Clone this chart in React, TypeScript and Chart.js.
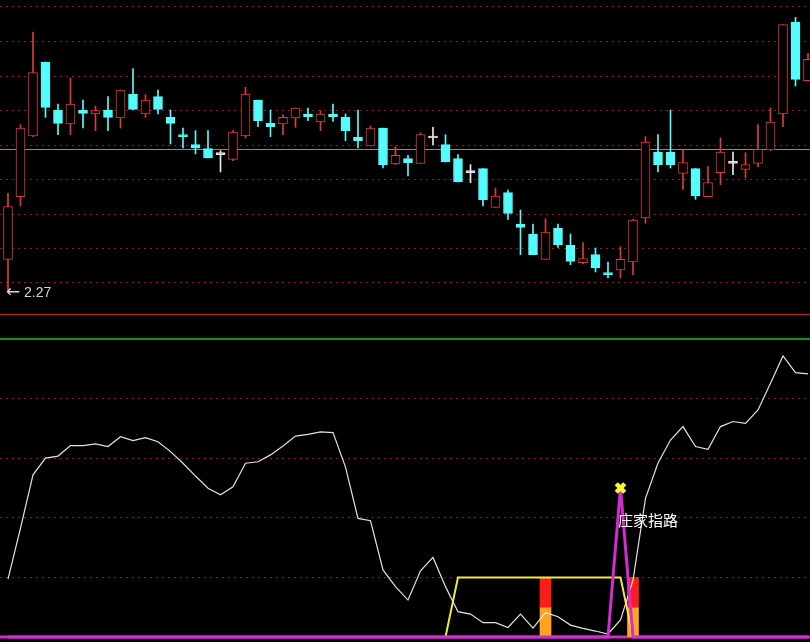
import React, { useEffect, useRef } from 'react';
import { Chart, registerables } from 'chart.js';

Chart.register(...registerables);

// ---------- price panel (65 sessions) ----------
const opens = [2.319, 2.413, 2.504, 2.615, 2.543, 2.522, 2.543, 2.537, 2.543, 2.531,
  2.567, 2.537, 2.563, 2.532, 2.506, 2.491, 2.485, 2.476, 2.469, 2.504,
  2.558, 2.523, 2.522, 2.531, 2.537, 2.525, 2.537, 2.532, 2.502, 2.489,
  2.516, 2.462, 2.470, 2.463, 2.501, 2.491, 2.470, 2.449, 2.455, 2.397,
  2.419, 2.372, 2.357, 2.319, 2.366, 2.340, 2.314, 2.326, 2.299, 2.303,
  2.315, 2.381, 2.480, 2.480, 2.448, 2.455, 2.413, 2.449, 2.463, 2.454,
  2.463, 2.483, 2.537, 2.675, 2.587];
const closes = [2.398, 2.516, 2.599, 2.547, 2.523, 2.552, 2.538, 2.542, 2.532, 2.573,
  2.544, 2.558, 2.544, 2.523, 2.503, 2.486, 2.471, 2.476, 2.510, 2.567,
  2.527, 2.518, 2.532, 2.546, 2.533, 2.537, 2.533, 2.512, 2.497, 2.516,
  2.461, 2.475, 2.464, 2.506, 2.501, 2.465, 2.435, 2.449, 2.408, 2.414,
  2.388, 2.367, 2.326, 2.360, 2.341, 2.316, 2.320, 2.306, 2.296, 2.319,
  2.378, 2.495, 2.461, 2.461, 2.464, 2.414, 2.434, 2.480, 2.463, 2.461,
  2.484, 2.525, 2.671, 2.589, 2.619];
const highs = [2.418, 2.521, 2.660, 2.615, 2.552, 2.591, 2.558, 2.549, 2.563, 2.573,
  2.605, 2.566, 2.573, 2.543, 2.516, 2.512, 2.512, 2.482, 2.512, 2.577,
  2.558, 2.543, 2.536, 2.546, 2.546, 2.542, 2.552, 2.537, 2.543, 2.519,
  2.516, 2.488, 2.475, 2.509, 2.517, 2.506, 2.476, 2.461, 2.455, 2.426,
  2.423, 2.393, 2.372, 2.380, 2.372, 2.357, 2.344, 2.336, 2.315, 2.338,
  2.379, 2.503, 2.506, 2.543, 2.483, 2.455, 2.458, 2.501, 2.480, 2.479,
  2.521, 2.546, 2.671, 2.682, 2.628];
const lows = [2.270, 2.399, 2.503, 2.532, 2.506, 2.506, 2.516, 2.512, 2.512, 2.516,
  2.544, 2.532, 2.537, 2.492, 2.486, 2.477, 2.471, 2.450, 2.467, 2.501,
  2.518, 2.503, 2.506, 2.517, 2.527, 2.512, 2.526, 2.497, 2.486, 2.489,
  2.456, 2.461, 2.444, 2.463, 2.491, 2.465, 2.435, 2.434, 2.399, 2.397,
  2.379, 2.326, 2.326, 2.319, 2.337, 2.311, 2.312, 2.300, 2.291, 2.291,
  2.296, 2.373, 2.450, 2.456, 2.424, 2.409, 2.413, 2.431, 2.446, 2.441,
  2.458, 2.482, 2.518, 2.579, 2.587];
const priceGrid = [2.284, 2.336, 2.387, 2.439, 2.490, 2.542, 2.594, 2.646, 2.698];
const prevClose = 2.485;
const priceMin = 2.237;
const priceMax = 2.708;

// ---------- indicator panel ----------
const indicator = [19.4, 36.5, 54.4, 60.0, 60.7, 64.2, 64.2, 64.8, 63.9, 67.2,
  65.9, 66.9, 65.5, 62.2, 58.3, 54.0, 49.9, 47.7, 50.4, 58.3,
  58.8, 61.1, 64.1, 67.4, 68.0, 68.8, 68.6, 57.0, 39.8, 39.0,
  22.5, 16.9, 12.4, 22.2, 26.7, 16.9, 8.5, 7.7, 4.8, 4.8,
  3.2, 7.7, 3.0, 8.2, 6.8, 4.0, 2.9, 2.0, 1.0, 5.7,
  19.1, 46.5, 58.4, 66.1, 70.6, 63.9, 63.0, 70.6, 72.3, 71.7,
  76.2, 85.1, 94.3, 88.7, 88.3];
const yellowLine = [0, 0, 0, 0, 0, 0, 0, 0, 0, 0,
  0, 0, 0, 0, 0, 0, 0, 0, 0, 0,
  0, 0, 0, 0, 0, 0, 0, 0, 0, 0,
  0, 0, 0, 0, 0, 0, 20, 20, 20, 20,
  20, 20, 20, 20, 20, 20, 20, 20, 20, 20,
  0, 0, 0, 0, 0, 0, 0, 0, 0, 0,
  0, 0, 0, 0, 0];
const magentaLine = [0, 0, 0, 0, 0, 0, 0, 0, 0, 0,
  0, 0, 0, 0, 0, 0, 0, 0, 0, 0,
  0, 0, 0, 0, 0, 0, 0, 0, 0, 0,
  0, 0, 0, 0, 0, 0, 0, 0, 0, 0,
  0, 0, 0, 0, 0, 0, 0, 0, 0, 50,
  0, 0, 0, 0, 0, 0, 0, 0, 0, 0,
  0, 0, 0, 0, 0];
const barIndex = [43, 50];
const barMid = [10, 10];
const barTop = [20, 20];
const signalIndex = 49;
const signalValue = 50;
const signalText = '庄家指路';
const signalTextValue = 39.3;
const oscGrid = [20, 40, 60, 80];
const oscTopLine = 100;
const oscMin = 0;
const oscMax = 107.7;

const xMin = -0.64;
const xMax = 64.16;

const UP = '#dc3c3a';
const DOWN = '#54fcfc';
const FLAT = '#e8e8e8';
const GRID = 'rgba(150,32,32,0.95)';

function candleColor(i: number) {
  const o = opens[i];
  const c = closes[i];
  return c > o ? UP : c < o ? DOWN : FLAT;
}
function bodyFill(i: number) {
  const o = opens[i];
  const c = closes[i];
  return c > o ? '#000000' : c < o ? DOWN : FLAT;
}

const pricePanelDecor = {
  id: 'pricePanelDecor',
  beforeDatasetsDraw(chart: any) {
    const { ctx, chartArea, scales } = chart;
    const y = Math.round(scales.y.getPixelForValue(prevClose)) + 0.5;
    ctx.save();
    ctx.strokeStyle = '#8a8a8a';
    ctx.lineWidth = 1;
    ctx.beginPath();
    ctx.moveTo(chartArea.left, y);
    ctx.lineTo(chartArea.right, y);
    ctx.stroke();
    ctx.restore();
  },
  afterDraw(chart: any) {
    const { ctx, chartArea, scales } = chart;
    ctx.save();
    ctx.strokeStyle = '#b02222';
    ctx.lineWidth = 1.5;
    ctx.beginPath();
    ctx.moveTo(0, chartArea.bottom + 0.5);
    ctx.lineTo(chart.width, chartArea.bottom + 0.5);
    ctx.stroke();
    let idx = 0;
    for (let i = 1; i < lows.length; i++) if (lows[i] < lows[idx]) idx = i;
    const x = scales.x.getPixelForValue(idx);
    const y = scales.y.getPixelForValue(lows[idx]);
    ctx.fillStyle = '#d4d4d4';
    ctx.textAlign = 'left';
    ctx.textBaseline = 'middle';
    ctx.font = '17px "DejaVu Sans", sans-serif';
    ctx.fillText('\u2190', x - 2, y + 1);
    ctx.font = '14px "Liberation Sans", Arial, sans-serif';
    ctx.fillText(lows[idx].toFixed(2), x + 16, y + 1);
    ctx.restore();
  },
};

const oscPanelDecor = {
  id: 'oscPanelDecor',
  beforeDatasetsDraw(chart: any) {
    const { ctx, scales } = chart;
    ctx.save();
    const gy = scales.y.getPixelForValue(oscTopLine);
    ctx.strokeStyle = '#22c022';
    ctx.lineWidth = 1.5;
    ctx.beginPath();
    ctx.moveTo(0, gy);
    ctx.lineTo(chart.width, gy);
    ctx.stroke();
    const by = scales.y.getPixelForValue(0);
    ctx.strokeStyle = '#d22cd2';
    ctx.lineWidth = 3;
    ctx.beginPath();
    ctx.moveTo(0, by);
    ctx.lineTo(chart.width, by);
    ctx.stroke();
    ctx.restore();
  },
  afterDatasetsDraw(chart: any) {
    const { ctx, scales } = chart;
    ctx.save();
    ctx.font = '15px "Noto Sans CJK SC", sans-serif';
    ctx.fillStyle = '#ffffff';
    ctx.textAlign = 'left';
    ctx.textBaseline = 'middle';
    ctx.fillText(signalText, scales.x.getPixelForValue(signalIndex) - 2.5, scales.y.getPixelForValue(signalTextValue));
    ctx.restore();
  },
};

function makeX() {
  return { type: 'linear', min: xMin, max: xMax, display: false, offset: false, grid: { offset: false } };
}

export default function App() {
  const topRef = useRef<HTMLCanvasElement>(null);
  const botRef = useRef<HTMLCanvasElement>(null);

  useEffect(() => {
    document.body.style.background = '#000';

    const top = new Chart(topRef.current as HTMLCanvasElement, {
      type: 'bar',
      data: {
        datasets: [
          {
            type: 'bar',
            label: 'body',
            data: opens.map((o, i) => ({ x: i, y: [o, closes[i]] })),
            backgroundColor: (c: any) => bodyFill(c.dataIndex),
            borderColor: (c: any) => candleColor(c.dataIndex),
            borderWidth: 1,
            borderSkipped: false,
            barThickness: 9,
            minBarLength: 2,
            grouped: false,
            order: 0,
          },
          {
            type: 'bar',
            label: 'wick',
            data: lows.map((l, i) => ({ x: i, y: [l, highs[i]] })),
            backgroundColor: (c: any) => candleColor(c.dataIndex),
            borderWidth: 0,
            barThickness: 1,
            grouped: false,
            order: 1,
          },
        ],
      } as any,
      options: {
        animation: false,
        responsive: false,
        events: [],
        layout: { autoPadding: false, padding: { left: 0, right: 0, top: 0, bottom: 2 } },
        plugins: { legend: { display: false }, tooltip: { enabled: false } },
        scales: {
          x: makeX(),
          y: {
            min: priceMin,
            max: priceMax,
            display: true,
            ticks: { display: false },
            grid: { color: GRID, lineWidth: 1, drawTicks: false },
            border: { display: false, dash: [2, 4] },
            afterBuildTicks: (s: any) => { s.ticks = priceGrid.map((v) => ({ value: v })); },
          },
        },
      } as any,
      plugins: [pricePanelDecor],
    });

    const bot = new Chart(botRef.current as HTMLCanvasElement, {
      type: 'bar',
      data: {
        datasets: [
          {
            type: 'line',
            label: 'signal',
            data: [{ x: signalIndex, y: signalValue }],
            showLine: false,
            pointStyle: 'crossRot',
            pointRadius: 6,
            pointBorderWidth: 4.5,
            pointBorderColor: '#ffff30',
            pointBackgroundColor: '#ffff30',
            order: -1,
            clip: 10,
          },
          {
            type: 'line',
            label: 'magenta',
            data: magentaLine.map((v, i) => ({ x: i, y: v })),
            borderColor: '#d22cd2',
            borderWidth: 3,
            pointRadius: 0,
            tension: 0,
            order: 0,
            clip: 6,
          },
          {
            type: 'line',
            label: 'indicator',
            data: indicator.map((v, i) => ({ x: i, y: v })),
            borderColor: '#e2e2e2',
            borderWidth: 1.2,
            pointRadius: 0,
            tension: 0,
            order: 1,
            clip: 6,
          },
          {
            type: 'line',
            label: 'yellow',
            data: yellowLine.map((v, i) => ({ x: i, y: v })),
            borderColor: '#eeee3a',
            borderWidth: 2,
            pointRadius: 0,
            tension: 0,
            order: 2,
            clip: 6,
          },
          {
            type: 'bar',
            label: 'red',
            data: barIndex.map((x, k) => ({ x, y: [barMid[k], barTop[k]] })),
            backgroundColor: '#ff1c1c',
            borderWidth: 0,
            barThickness: 11,
            grouped: false,
            order: 3,
          },
          {
            type: 'bar',
            label: 'orange',
            data: barIndex.map((x, k) => ({ x, y: [0, barMid[k]] })),
            backgroundColor: '#ffa41c',
            borderWidth: 0,
            barThickness: 11,
            grouped: false,
            order: 3,
          },
        ],
      } as any,
      options: {
        animation: false,
        responsive: false,
        events: [],
        layout: { autoPadding: false, padding: { left: 0, right: 0, top: 0, bottom: 5 } },
        plugins: { legend: { display: false }, tooltip: { enabled: false } },
        scales: {
          x: makeX(),
          y: {
            min: oscMin,
            max: oscMax,
            display: true,
            ticks: { display: false },
            grid: { color: GRID, lineWidth: 1, drawTicks: false },
            border: { display: false, dash: [2, 4] },
            afterBuildTicks: (s: any) => { s.ticks = oscGrid.map((v) => ({ value: v })); },
          },
        },
      } as any,
      plugins: [oscPanelDecor],
    });

    return () => {
      top.destroy();
      bot.destroy();
    };
  }, []);

  return (
    <div style={{ position: 'absolute', left: 0, top: 0, width: 810, height: 642, background: '#000', overflow: 'hidden' }}>
      <canvas ref={topRef} width={810} height={316} style={{ position: 'absolute', left: 0, top: 0, width: 810, height: 316, display: 'block' }} />
      <canvas ref={botRef} width={810} height={326} style={{ position: 'absolute', left: 0, top: 316, width: 810, height: 326, display: 'block' }} />
    </div>
  );
}
